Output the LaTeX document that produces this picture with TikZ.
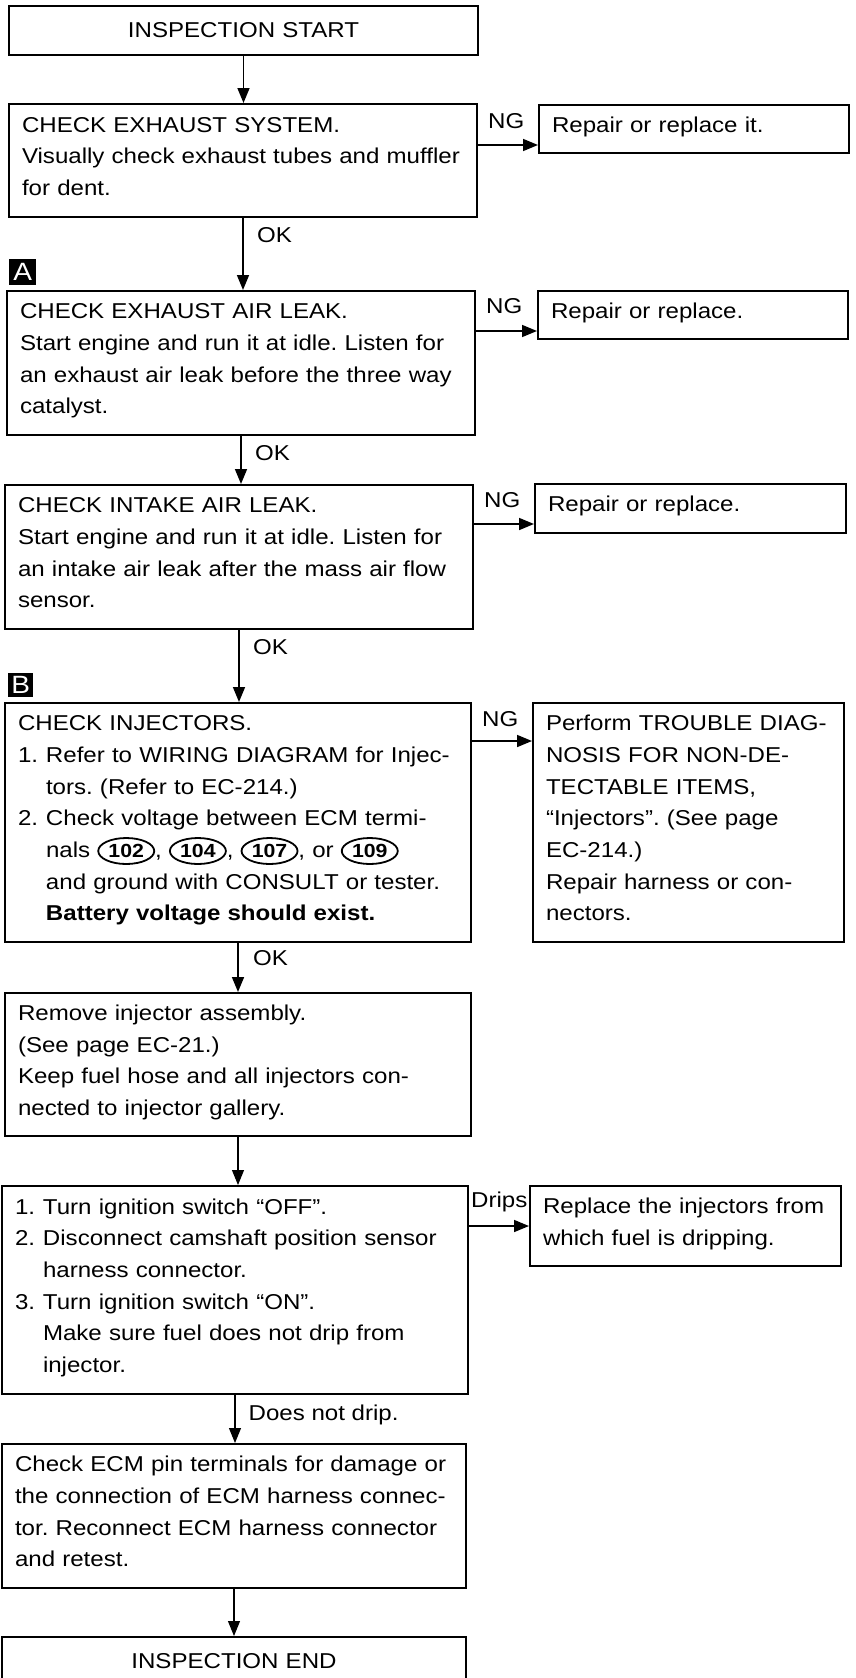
\documentclass[tikz,border=0pt]{standalone}
\usepackage{fontspec}
\setmainfont{Liberation Sans}[FakeStretch=1.12]
\usetikzlibrary{arrows.meta,shapes.geometric,calc}
\frenchspacing
\newcommand\diagfont{\fontsize{21.5pt}{31.7pt}\selectfont}
\newcommand\TL[1]{\begin{tabular}{@{}l@{}}#1\rule[-15.5pt]{0pt}{0pt}\end{tabular}}
\newcommand\NUM[1]{\makebox[28pt][l]{#1}}
\newcommand\IND{\hspace*{28pt}}
\newcommand\CN[2]{\tikz[baseline=(#1.base)]\node[cnum](#1){#2};}
\tikzset{
  box/.style={draw, line width=2pt, anchor=north west, inner xsep=13pt, inner ysep=0pt, align=left, font=\diagfont},
  cnum/.style={ellipse, draw, line width=1.8pt, minimum width=56pt, minimum height=26pt, inner sep=0pt, anchor=center, text width={}, align=center, font=\bfseries\fontsize{19pt}{19pt}\selectfont},
  lbl/.style={anchor=base west, inner sep=0pt, font=\diagfont},
  tagbox/.style={fill=black, text=white, anchor=north west, minimum width=27pt, minimum height=26pt, inner sep=0pt, font=\fontsize{25pt}{25pt}\selectfont},
  arr/.style={line width=1.6pt, -{Triangle[length=15pt,width=12pt]}},
  thinarr/.style={arr, line width=1.1pt},
}
\begin{document}
\begin{tikzpicture}[x=1pt,y=-1pt]
\useasboundingbox (0,0) rectangle (856,1678);
\clip (0,0) rectangle (856,1678);

% main column
\node[box, minimum width=469pt, minimum height=49pt, text width=443pt, align=center] (st) at (8,5) {INSPECTION START};

\node[box, minimum width=468pt, minimum height=113pt, text width=442pt] (b1) at (8,103)
  {\TL{CHECK EXHAUST SYSTEM.\\ Visually check exhaust tubes and muffler\\ for dent.}};

\node[box, minimum width=468pt, minimum height=144pt, text width=442pt] (b2) at (6,290)
  {\TL{CHECK EXHAUST AIR LEAK.\\ Start engine and run it at idle. Listen for\\ an exhaust air leak before the three way\\ catalyst.}};

\node[box, minimum width=468pt, minimum height=144pt, text width=442pt] (b3) at (4,484)
  {\TL{CHECK INTAKE AIR LEAK.\\ Start engine and run it at idle. Listen for\\ an intake air leak after the mass air flow\\ sensor.}};

\node[box, minimum width=466pt, minimum height=239pt, text width=440pt] (b4) at (4,702)
  {\TL{CHECK INJECTORS.\\
  \NUM{1.}Refer to WIRING DIAGRAM for Injec-\\
  \IND tors. (Refer to EC-214.)\\
  \NUM{2.}Check voltage between ECM termi-\\
  \IND nals \CN{c102}{102}, \CN{c104}{104}, \CN{c107}{107}, or \CN{c109}{109}\\
  \IND and ground with CONSULT or tester.\\
  \IND\textbf{Battery voltage should exist.}}};

\node[box, minimum width=466pt, minimum height=143pt, text width=440pt] (b5) at (4,992)
  {\TL{Remove injector assembly.\\ (See page EC-21.)\\ Keep fuel hose and all injectors con-\\ nected to injector gallery.}};

\node[box, minimum width=466pt, minimum height=208pt, text width=440pt] (b6) at (1,1185)
  {\TL{\NUM{1.}Turn ignition switch “OFF”.\\
  \NUM{2.}Disconnect camshaft position sensor\\
  \IND harness connector.\\
  \NUM{3.}Turn ignition switch “ON”.\\
  \IND Make sure fuel does not drip from\\
  \IND injector.}};

\node[box, minimum width=464pt, minimum height=144pt, text width=438pt] (b7) at (1,1443)
  {\TL{Check ECM pin terminals for damage or\\ the connection of ECM harness connec-\\ tor. Reconnect ECM harness connector\\ and retest.}};

\node[box, minimum width=464pt, minimum height=49pt, text width=438pt, align=center] (en) at (1,1636) {INSPECTION END};

% side boxes
\node[box, minimum width=310pt, minimum height=48pt, text width=284pt] (r1) at (538,104) {\TL{Repair or replace it.}};
\node[box, minimum width=310pt, minimum height=48pt, text width=284pt] (r2) at (537,290) {\TL{Repair or replace.}};
\node[box, minimum width=311pt, minimum height=49pt, text width=285pt] (r3) at (534,483) {\TL{Repair or replace.}};
\node[box, minimum width=311pt, minimum height=239pt, text width=285pt] (r4) at (532,702)
  {\TL{Perform TROUBLE DIAG-\\ NOSIS FOR NON-DE-\\ TECTABLE ITEMS,\\ “Injectors”. (See page\\ EC-214.)\\ Repair harness or con-\\ nectors.}};
\node[box, minimum width=311pt, minimum height=80pt, text width=285pt] (r6) at (529,1185)
  {\TL{Replace the injectors from\\ which fuel is dripping.}};

% markers
\node[tagbox] (mA) at (9,259) {A};
\node[tagbox, minimum width=25pt, minimum height=24pt] (mB) at (8,673) {B};

% vertical connectors
\draw[arr] (st.south) -- (st.south |- b1.north);
\draw[arr] (b1.south) -- (b1.south |- b2.north);
\draw[arr] (b2.south) -- (b2.south |- b3.north);
\draw[arr] (b3.south) -- (b3.south |- b4.north);
\draw[arr] (b4.south) -- (b4.south |- b5.north);
\draw[thinarr] (b5.south) -- (b5.south |- b6.north);
\draw[thinarr] (b6.south) -- (b6.south |- b7.north);
\draw[thinarr] (b7.south) -- (b7.south |- en.north);

\node[lbl] (ok1) at ($(b1.south)+(14,24)$) {OK};
\node[lbl] (ok2) at ($(b2.south)+(14,24)$) {OK};
\node[lbl] (ok3) at ($(b3.south)+(14,24)$) {OK};
\node[lbl] (ok4) at ($(b4.south)+(15,22)$) {OK};
\node[lbl] (nd) at ($(b6.south)+(13.5,25)$) {Does not drip.};

% side connectors
\path (r1.west) ++(0,16) coordinate (a1);
\path (r2.west) ++(0,16) coordinate (a2);
\path (r3.west) ++(0,15.5) coordinate (a3);
\path (r4.north west) ++(0,39) coordinate (a4);
\path (r6.west) coordinate (a6);
\draw[arr] (b1.east |- a1) -- (a1);
\draw[arr] (b2.east |- a2) -- (a2);
\draw[arr] (b3.east |- a3) -- (a3);
\draw[arr] (b4.east |- a4) -- (a4);
\draw[arr] (b6.east |- a6) -- (a6);

\node[lbl] (ng1) at ($(b1.north east)+(10,25)$) {NG};
\node[lbl] (ng2) at ($(b2.north east)+(10,23)$) {NG};
\node[lbl] (ng3) at ($(b3.north east)+(10,23)$) {NG};
\node[lbl] (ng4) at ($(b4.north east)+(10,24)$) {NG};
\node[lbl] (dr) at ($(b6.north east)+(2,22)$) {Drips};
\end{tikzpicture}
\end{document}
